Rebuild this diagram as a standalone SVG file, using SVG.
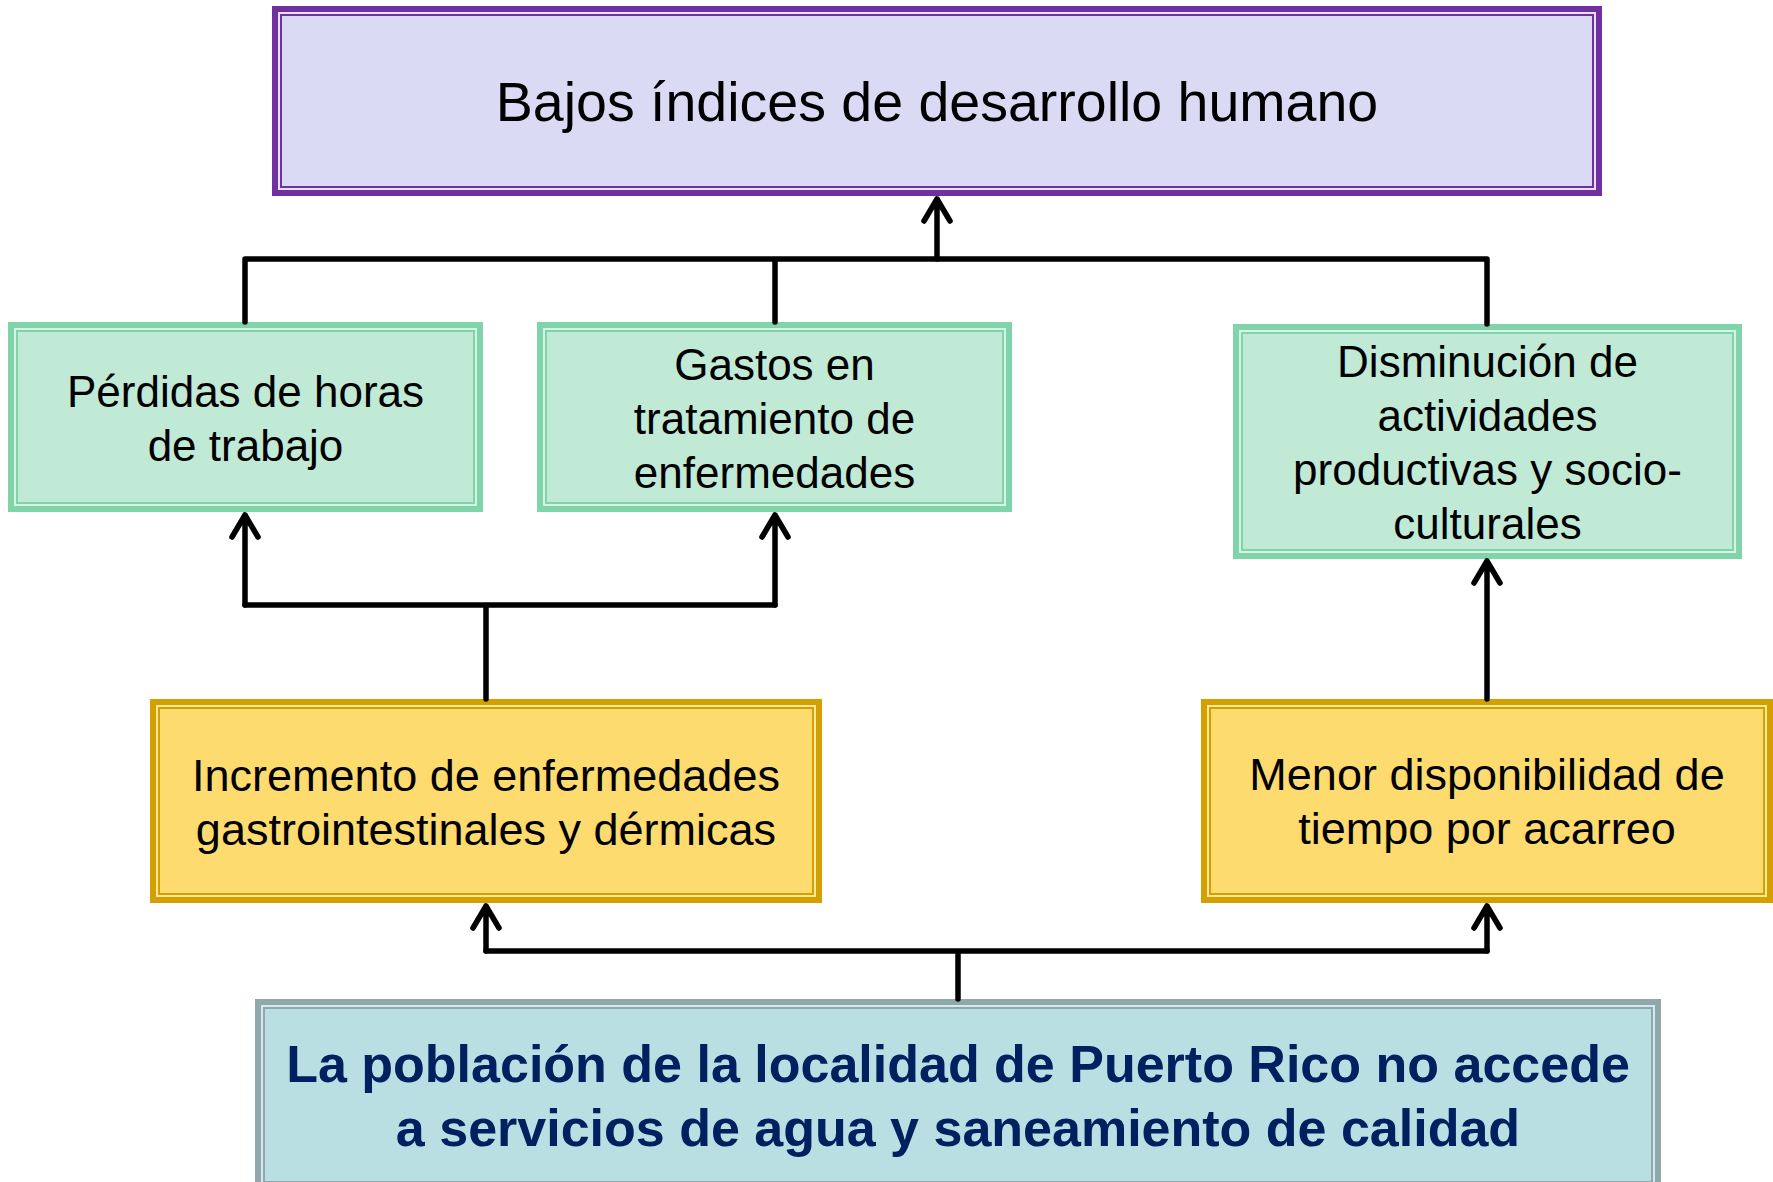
<svg xmlns="http://www.w3.org/2000/svg" width="1773" height="1182" viewBox="0 0 1773 1182">
<style>
  .t { font-family: "Liberation Sans", Arial, sans-serif; text-anchor: middle; fill: #000; }
  .top { font-size: 55.5px; }
  .mid { font-size: 44px; }
  .yel { font-size: 45px; }
  .bot { font-size: 52px; font-weight: bold; fill: #002060; }
  .pOut { fill: #E6E1F7; stroke: #7030A0; stroke-width: 6; }
  .pIn { fill: #DADAF4; stroke: #7030A0; stroke-width: 2; }
  .gOut { fill: #D8F2E5; stroke: #80D4A9; stroke-width: 6; }
  .gIn { fill: #C0E9D6; stroke: #80D4A9; stroke-width: 2; }
  .yOut { fill: #FFE9A0; stroke: #D4A000; stroke-width: 6; }
  .yIn { fill: #FDDB6F; stroke: #D4A000; stroke-width: 2; }
  .bOut { fill: #D3E9EB; stroke: #90A8AB; stroke-width: 6; }
  .bIn { fill: #B9DFE3; stroke: #90A8AB; stroke-width: 2; }
  .c { fill: none; stroke: #000; stroke-width: 5.5; stroke-linecap: round; stroke-linejoin: round; }
</style>

<g id="node-top">
  <rect class="pOut" x="275" y="9" width="1324" height="184"/>
  <rect class="pIn" x="281" y="15" width="1312" height="172"/>
  <text class="t top" x="937" y="121">Bajos índices de desarrollo humano</text>
</g>

<g id="node-perdidas">
  <rect class="gOut" x="11" y="325" width="469" height="184"/>
  <rect class="gIn" x="17" y="331" width="457" height="172"/>
  <text class="t mid" x="245.5" y="407">Pérdidas de horas</text>
  <text class="t mid" x="245.5" y="461">de trabajo</text>
</g>

<g id="node-gastos">
  <rect class="gOut" x="540" y="325" width="469" height="184"/>
  <rect class="gIn" x="546" y="331" width="457" height="172"/>
  <text class="t mid" x="774.5" y="380">Gastos en</text>
  <text class="t mid" x="774.5" y="434">tratamiento de</text>
  <text class="t mid" x="774.5" y="488">enfermedades</text>
</g>

<g id="node-disminucion">
  <rect class="gOut" x="1236" y="327" width="503" height="229"/>
  <rect class="gIn" x="1242" y="333" width="491" height="217"/>
  <text class="t mid" x="1487.5" y="377">Disminución de</text>
  <text class="t mid" x="1487.5" y="431">actividades</text>
  <text class="t mid" x="1487.5" y="485">productivas y socio-</text>
  <text class="t mid" x="1487.5" y="539">culturales</text>
</g>

<g id="node-incremento">
  <rect class="yOut" x="153" y="702" width="666" height="198"/>
  <rect class="yIn" x="159" y="708" width="654" height="186"/>
  <text class="t yel" x="486" y="791">Incremento de enfermedades</text>
  <text class="t yel" x="486" y="845">gastrointestinales y dérmicas</text>
</g>

<g id="node-menor">
  <rect class="yOut" x="1204" y="702" width="566" height="198"/>
  <rect class="yIn" x="1210" y="708" width="554" height="186"/>
  <text class="t yel" x="1487" y="790">Menor disponibilidad de</text>
  <text class="t yel" x="1487" y="844">tiempo por acarreo</text>
</g>

<g id="node-poblacion">
  <rect class="bOut" x="258" y="1002" width="1400" height="186"/>
  <rect class="bIn" x="264" y="1008" width="1388" height="174"/>
  <text class="t bot" x="958" y="1082">La población de la localidad de Puerto Rico no accede</text>
  <text class="t bot" x="958" y="1146">a servicios de agua y saneamiento de calidad</text>
</g>

<g id="connectors">
  <path class="c" d="M245 322 V259 H1487 V324 M775 322 V259"/>
  <path class="c" d="M937 259 V199 M924 221 L937 199 L950 221"/>
  <path class="c" d="M486 699 V605 M245 605 H775"/>
  <path class="c" d="M245 605 V515 M232 537 L245 515 L258 537"/>
  <path class="c" d="M775 605 V515 M762 537 L775 515 L788 537"/>
  <path class="c" d="M1487 699 V561 M1474 583 L1487 561 L1500 583"/>
  <path class="c" d="M958 999 V951 M486 951 H1487"/>
  <path class="c" d="M486 951 V906 M473 928 L486 906 L499 928"/>
  <path class="c" d="M1487 951 V906 M1474 928 L1487 906 L1500 928"/>
</g>
</svg>
